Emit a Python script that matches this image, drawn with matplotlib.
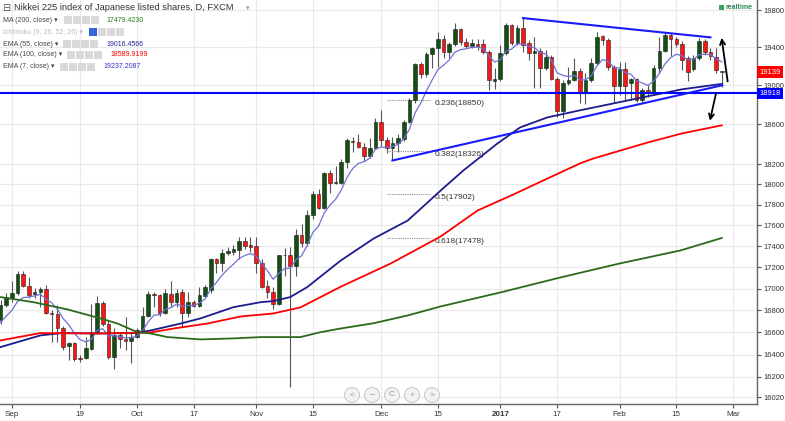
import matplotlib.pyplot as plt
import matplotlib.patches as mpatches
from matplotlib.transforms import blended_transform_factory
from matplotlib.ticker import NullLocator
import pandas as pd

plt.rcParams['font.family'] = ['Liberation Sans', 'DejaVu Sans']

# daily candles, Nikkei 225 (FXCM), end of Aug 2016 -> late Feb 2017
opens = [16708, 16846, 16911, 16957, 17134, 17022, 16948, 16967, 16995, 16772,
         16770, 16644, 16473, 16500, 16365, 16365, 16446, 16599, 16864, 16680,
         16374, 16572, 16536, 16518, 16554, 16599, 16745, 16948, 16939, 16772,
         16948, 16874, 16967, 16772, 16874, 16837, 16929, 16985, 17284, 17246,
         17332, 17341, 17360, 17446, 17408, 17398, 17237, 17022, 16967, 16855,
         17313, 17313, 17209, 17503, 17427, 17696, 17909, 17773, 18107, 18017,
         18017, 18216, 18427, 18417, 18376, 18276, 18356, 18620, 18437, 18356,
         18407, 18447, 18620, 18846, 19222, 19117, 19328, 19391, 19488, 19349,
         19434, 19595, 19456, 19413, 19434, 19434, 19349, 19044, 19065, 19339,
         19638, 19445, 19606, 19445, 19339, 19360, 19180, 19296, 19065, 18733,
         19023, 19054, 19148, 18919, 19054, 19232, 19520, 19477, 19190, 18992,
         19169, 19023, 19065, 18846, 18950, 18929, 19180, 19360, 19531, 19488,
         19434, 19285, 19169, 19285, 19467, 19349, 19296, 19148]
highs = [16892, 16957, 17069, 17162, 17162, 17106, 17004, 17013, 17032, 16800,
         16846, 16660, 16510, 16510, 16392, 16554, 16855, 16929, 16883, 16699,
         16635, 16599, 16736, 16590, 16644, 16828, 16976, 16967, 16948, 16995,
         17069, 16995, 16995, 16967, 16892, 17013, 17032, 17293, 17293, 17370,
         17389, 17408, 17484, 17484, 17484, 17484, 17284, 17078, 17013, 17322,
         17379, 17389, 17561, 17618, 17744, 17939, 17949, 18117, 18137, 18186,
         18246, 18457, 18467, 18498, 18407, 18457, 18661, 18743, 18467, 18467,
         18498, 18640, 18867, 19232, 19243, 19349, 19402, 19563, 19531, 19456,
         19660, 19606, 19498, 19488, 19488, 19488, 19370, 19180, 19424, 19660,
         19645, 19638, 19724, 19477, 19509, 19391, 19370, 19317, 19086, 19054,
         19190, 19285, 19180, 19127, 19285, 19563, 19531, 19498, 19211, 19243,
         19243, 19075, 19075, 18971, 19002, 19211, 19509, 19563, 19552, 19509,
         19467, 19306, 19317, 19498, 19488, 19391, 19391, 19149]
lows = [16680, 16828, 16874, 16939, 17013, 16911, 16911, 16828, 16763, 16509,
        16509, 16437, 16347, 16338, 16329, 16356, 16437, 16581, 16662, 16356,
        16267, 16455, 16437, 16320, 16545, 16590, 16736, 16828, 16745, 16763,
        16828, 16828, 16653, 16736, 16828, 16828, 16920, 16957, 17143, 17162,
        17313, 17313, 17284, 17370, 17341, 17152, 17004, 16911, 16809, 16846,
        17124, 16107, 17115, 17389, 17398, 17666, 17763, 17754, 17919, 18007,
        18007, 18157, 18316, 18356, 18226, 18256, 18346, 18386, 18306, 18236,
        18316, 18427, 18609, 18815, 19075, 19086, 19180, 19190, 19285, 19285,
        19413, 19424, 19391, 19391, 19370, 19328, 18950, 18960, 19044, 19317,
        19424, 19424, 19349, 19264, 18971, 18971, 19159, 19054, 18671, 18661,
        19002, 19044, 18815, 18805, 19033, 19211, 19424, 19159, 18826, 18898,
        18846, 18846, 18826, 18815, 18877, 18898, 19127, 19349, 19306, 19402,
        19159, 19044, 19148, 19264, 19317, 19264, 19127, 18989]
closes = [16846, 16920, 16957, 17134, 17022, 16939, 16967, 16995, 16772, 16766,
          16644, 16464, 16500, 16356, 16360, 16455, 16599, 16864, 16680, 16374,
          16572, 16536, 16518, 16554, 16617, 16745, 16948, 16939, 16772, 16957,
          16874, 16957, 16772, 16874, 16837, 16939, 17013, 17284, 17237, 17332,
          17351, 17370, 17446, 17398, 17389, 17237, 17013, 16967, 16855, 17313,
          17318, 17209, 17503, 17427, 17705, 17909, 17773, 18107, 18017, 18027,
          18216, 18437, 18417, 18366, 18276, 18356, 18620, 18437, 18356, 18407,
          18457, 18620, 18846, 19222, 19117, 19328, 19391, 19488, 19349, 19434,
          19595, 19456, 19413, 19445, 19413, 19349, 19054, 19065, 19339, 19638,
          19445, 19606, 19424, 19339, 19360, 19180, 19296, 19065, 18733, 19023,
          19054, 19148, 18919, 19054, 19232, 19509, 19477, 19190, 18992, 19169,
          18992, 19065, 18846, 18950, 18929, 19180, 19360, 19531, 19488, 19434,
          19264, 19138, 19285, 19467, 19349, 19306, 19159, 19139]

# moving averages (bar index, value)
ma200_x = [0, 5.8, 11.8, 17.6, 20.6, 24.1, 26.4, 29.4, 35.2, 41, 45.8, 52.8, 56.3,
           59.9, 65.7, 71.7, 77.5, 88, 98.6, 109, 119.7, 127]
ma200_y = [16923, 16876, 16809, 16727, 16680, 16601, 16590, 16557, 16536, 16545, 16557,
           16557, 16601, 16635, 16683, 16754, 16837, 16966, 17106, 17237, 17360, 17479]
ema55_x = [0, 7, 10.6, 17.6, 23.4, 26.4, 31.7, 35.2, 41, 45.8, 48, 51, 54, 59.9, 65.7,
           71.7, 77.5, 81.5, 87.5, 91.5, 96.3, 102, 108, 114, 120, 127]
ema55_y = [16467, 16572, 16593, 16590, 16593, 16617, 16680, 16727, 16830, 16876, 16886,
           16923, 17016, 17265, 17474, 17647, 17939, 18137, 18407, 18569, 18671, 18743,
           18815, 18888, 18960, 19016]
ema100_x = [0, 7, 17.6, 26.4, 30.5, 36.4, 42.3, 48, 52.8, 60, 68.7, 77.5, 84, 90.3,
            96.3, 102, 104.4, 114, 120, 127]
ema100_y = [16527, 16593, 16590, 16599, 16635, 16680, 16745, 16772, 16828, 17022, 17237,
            17494, 17744, 17900, 18057, 18206, 18256, 18417, 18508, 18590]
ema7_start = 16640

fib_levels = [18850, 18326, 17902, 17478]
fib_labels = ['0.236(18850)', '0.382(18326)', '0.5(17902)', '0.618(17478)']
support_level = 18918
last_close = 19139

y_ticks = [19800, 19400, 19000, 18600, 18200, 18000, 17800, 17600, 17400, 17200,
           17000, 16800, 16600, 16400, 16200, 16020]
x_tick_pos = [2, 14, 24, 34, 45, 55, 67, 77, 88, 98, 109, 119, 129]
x_tick_labels = ['Sep', '19', 'Oct', '17', 'Nov', '15', 'Dec', '15', '2017', '17',
                 'Feb', '15', 'Mar']

W, H = 785, 421
fig = plt.figure(figsize=(W / 100, H / 100), dpi=100)
ax = fig.add_axes([0, 17 / H, 757 / W, 404 / H])
ax.set_yscale('log')
ax.set_ylim(15962, 19909)
ax.set_xlim(-0.1, 133.2)

# candles
green, red = '#115011', '#ff1414'
x = list(range(len(closes)))
ax.vlines(x, lows, highs, color='#555555', lw=0.8, zorder=2)
for i in x:
    o, c = opens[i], closes[i]
    lo, hi = min(o, c), max(o, c)
    if hi - lo < 8:
        hi = lo + 8
    ax.bar(i, hi - lo, bottom=lo, width=0.64, color=green if c >= o else red,
           edgecolor='#1e1e1e', lw=0.4, zorder=3)

# indicators
ema7 = pd.Series([ema7_start] + closes).ewm(span=7, adjust=False).mean()[1:]
ax.plot(x, ema7.values, color='#7070d8', lw=0.9, zorder=4)
ax.plot(ema55_x, ema55_y, color='#1c1c8c', lw=1.3, zorder=4)
ax.plot(ema100_x, ema100_y, color='#ff0000', lw=1.3, zorder=4)
ax.plot(ma200_x, ma200_y, color='#2b6a1c', lw=1.3, zorder=4)

# drawings
ax.axhline(support_level, color='#0000ff', lw=1.5, zorder=5)
ax.plot([69.0, 127.1], [18236, 19002], color='#1a1aff', lw=1.5, zorder=5)
ax.plot([92.0, 125.0], [19713, 19506], color='#1a1aff', lw=1.5, zorder=5)
ax.annotate('', xy=(126.9, 19531), xytext=(128.1, 19013),
            arrowprops=dict(arrowstyle='->', color='black', lw=1.3,
                            mutation_scale=9), zorder=6)
ax.annotate('', xy=(124.8, 18609), xytext=(126.1, 18950),
            arrowprops=dict(arrowstyle='->', color='black', lw=1.3,
                            mutation_scale=9), zorder=6)
for lvl, lab in zip(fib_levels, fib_labels):
    ax.hlines(lvl, 68.1, 75.7, colors='#8a8a8a', linestyles=(0, (1, 1)), lw=0.8)
    ax.text(76.4, lvl, lab, fontsize=6, color='#333333', va='top', ha='left')

# axes styling
ax.grid(True, color='#e9e9e9', lw=0.8, zorder=0)
ax.set_axisbelow(True)
ax.yaxis.tick_right()
ax.set_yticks(y_ticks)
ax.set_yticklabels([str(v) for v in y_ticks])
ax.yaxis.set_minor_locator(NullLocator())
ax.set_xticks(x_tick_pos)
ax.set_xticklabels(x_tick_labels)
for t in ax.get_xticklabels():
    if t.get_text() == '2017':
        t.set_fontweight('bold')
ax.tick_params(axis='y', length=3, pad=1.5, labelsize=5.5, colors='#555555',
               labelcolor='#333333')
ax.tick_params(axis='x', length=3, pad=2, labelsize=5.8, colors='#555555',
               labelcolor='#333333')
for s in ['left', 'top']:
    ax.spines[s].set_visible(False)
for s in ['right', 'bottom']:
    ax.spines[s].set_color('#666666')
    ax.spines[s].set_linewidth(1.0)

# price labels on the scale
tr = blended_transform_factory(ax.transAxes, ax.transData)
ax.text(1.003, last_close, '19139', transform=tr, color='white', fontsize=5.5,
        va='center', ha='left', zorder=10, clip_on=False,
        bbox=dict(boxstyle='square,pad=0.3', fc='#ff0000', ec='none'))
ax.text(1.003, support_level, '18918', transform=tr, color='white', fontsize=5.5,
        va='center', ha='left', zorder=10, clip_on=False,
        bbox=dict(boxstyle='square,pad=0.3', fc='#0000ff', ec='none'))


# legend block (pixel coords from top-left)
def fx(px):
    return px / W


def fy(py):
    return 1 - py / H


def icons(x0, y0, first='#d9d9d9'):
    for k in range(4):
        fc = first if k == 0 else '#d9d9d9'
        fig.patches.append(mpatches.Rectangle((fx(x0 + 9 * k), fy(y0 + 4)), 8 / W, 8 / H,
                                              transform=fig.transFigure, fc=fc,
                                              ec='none', zorder=5))


fig.text(fx(2), fy(8), '\u229f', fontsize=7, color='#555555', va='center',
         family=['DejaVu Sans'])
fig.text(fx(14), fy(8), 'Nikkei 225 index of Japanese listed shares, D, FXCM',
         fontsize=6.7, color='#333333', va='center')
fig.text(fx(246), fy(8), '\u25be', fontsize=5, color='#999999', va='center',
         family=['DejaVu Sans'])

rows = [('MA (200, close)', 20, 64, '17479.4230', 106, '#2b7a1c'),
        ('Ichimoku (9, 26, 52, 26)', 32, 89, None, 0, None),
        ('EMA (55, close)', 44, 63, '19016.4566', 106, '#22229a'),
        ('EMA (100, close)', 55, 67, '18589.9199', 110, '#ff0000'),
        ('EMA (7, close)', 67, 60, '19237.2087', 103, '#3333cc')]
for name, yy, ix, val, vx, vc in rows:
    col = '#bbbbbb' if val is None else '#444444'
    fig.text(fx(3), fy(yy), name + ' \u25be', fontsize=5, color=col, va='center',
             family=['Liberation Sans', 'DejaVu Sans'])
    icons(ix, yy, first='#3565d6' if val is None else '#d9d9d9')
    if val:
        fig.text(fx(vx), fy(yy), val, fontsize=5, color=vc, va='center')

fig.patches.append(mpatches.Rectangle((fx(719), fy(10)), 5 / W, 5 / H,
                                      transform=fig.transFigure, fc='#3aa35a',
                                      ec='none'))
fig.text(fx(753), fy(7.5), 'realtime', fontsize=5, color='#2e8b57', va='center',
         ha='right', fontweight='bold')

# navigation buttons
for k, sym in enumerate(['<', '\u2212', 'C', '+', '>']):
    cx, cy = 352 + 20 * k, 395
    fig.patches.append(mpatches.Circle((cx / 100, (H - cy) / 100), 0.075,
                                       transform=fig.dpi_scale_trans, fc='#f2f2f2',
                                       ec='#cccccc', lw=0.8, zorder=8))
    fig.text(fx(cx), fy(cy), sym, fontsize=6, color='#999999', ha='center',
             va='center', zorder=9)

fig.savefig('out.png', dpi=100)
